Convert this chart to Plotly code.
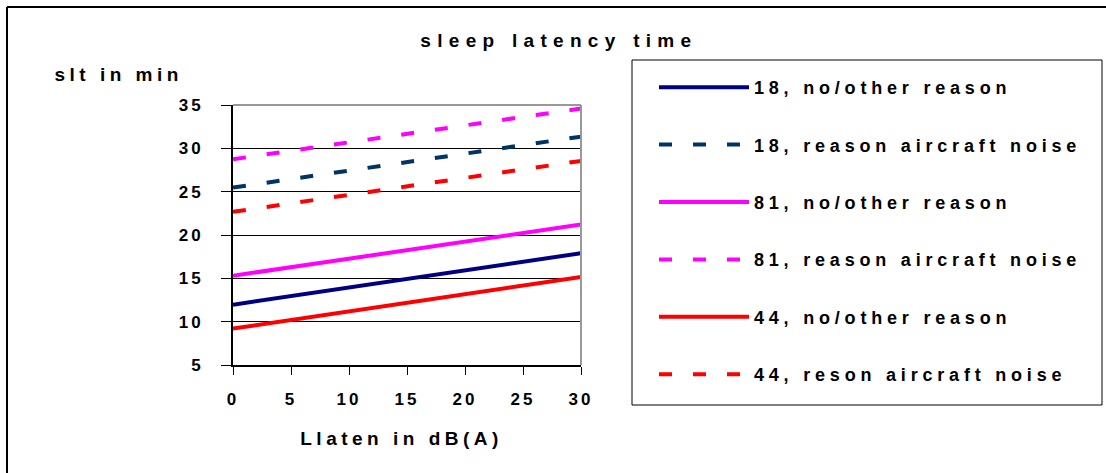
import plotly.graph_objects as go

# ---- data ----
x_vals = [0, 30]
series_names = [
    "18, no/other reason",
    "18, reason aircraft noise",
    "81, no/other reason",
    "81, reason aircraft noise",
    "44, no/other reason",
    "44, reson aircraft noise",
]
s18_other = [11.96, 17.9]
s18_noise = [25.47, 31.35]
s81_other = [15.3, 21.2]
s81_noise = [28.74, 34.6]
s44_other = [9.2, 15.15]
s44_noise = [22.67, 28.55]
series_values = [s18_other, s18_noise, s81_other, s81_noise, s44_other, s44_noise]
x_ticks = [0, 5, 10, 15, 20, 25, 30]
y_ticks = [5, 10, 15, 20, 25, 30, 35]

colors = ["#000080", "#003366", "#FF00FF", "#FF00FF", "#FF0000", "#FF0000"]
dashes = ["solid", "13px,21px", "solid", "13px,21px", "solid", "13px,21px"]

W, H = 1106, 473
L, R, T, B = 233, 525, 105, 108
PW, PH = W - L - R, H - T - B

def px(xp):
    return (xp - L) / PW

def py(yp):
    return 1 - (yp - T) / PH

FONT = "Liberation Sans, Arial, sans-serif"

fig = go.Figure()
for i, (name, vals) in enumerate(zip(series_names, series_values)):
    fig.add_trace(go.Scatter(
        x=x_vals, y=vals, mode="lines", name=name,
        legendgroup=f"g{i}",
        line=dict(color=colors[i], width=4, dash=dashes[i]),
        hoverinfo="skip",
    ))

fig.update_layout(
    width=W, height=H,
    margin=dict(l=L, r=R, t=T, b=B, pad=0),
    paper_bgcolor="white", plot_bgcolor="white",
    font=dict(family=FONT, color="black", size=17, weight="bold"),
    showlegend=True,
    legend=dict(
        xref="container", yref="container",
        x=654 / W, y=1 - 69 / H, xanchor="left", yanchor="top",
        bgcolor="rgba(0,0,0,0)", borderwidth=0,
        font=dict(family=FONT, size=18, color="black", weight="bold"),
        itemwidth=90, tracegroupgap=31,
        traceorder="grouped",
        maxheight=460,
    ),
    xaxis=dict(
        range=[0, 30], tickvals=x_ticks, ticktext=[str(v) for v in x_ticks],
        showgrid=False, zeroline=False,
        showline=True, linecolor="black", linewidth=2,
        ticks="outside", ticklen=8, tickcolor="black", tickwidth=1,
        tickfont=dict(family=FONT, size=17, color="black", weight="bold"),
        ticklabelstandoff=10,
        fixedrange=True,
    ),
    yaxis=dict(
        range=[5, 35], tickvals=y_ticks, ticktext=[str(v) for v in y_ticks],
        showgrid=True, gridcolor="black", gridwidth=1, zeroline=False,
        showline=True, linecolor="black", linewidth=2,
        ticks="outside", ticklen=10, tickcolor="black", tickwidth=1,
        tickfont=dict(family=FONT, size=17, color="black", weight="bold"),
        ticklabelstandoff=14,
        fixedrange=True,
    ),
)

# plot area top/right border (gray)
fig.add_shape(type="line", xref="paper", yref="paper", x0=0, x1=1, y0=1, y1=1,
              line=dict(color="#999999", width=2))
fig.add_shape(type="line", xref="paper", yref="paper", x0=1, x1=1, y0=0, y1=1,
              line=dict(color="#999999", width=2))
# legend box
fig.add_shape(type="rect", xref="paper", yref="paper",
              x0=px(632), x1=px(1102), y0=py(405), y1=py(60),
              line=dict(color="black", width=1), layer="below")
# outer frame (left and top edges)
fig.add_shape(type="line", xref="paper", yref="paper", x0=px(7), x1=px(7), y0=py(7), y1=py(480),
              line=dict(color="black", width=2))
fig.add_shape(type="line", xref="paper", yref="paper", x0=px(7), x1=px(1110), y0=py(7), y1=py(7),
              line=dict(color="black", width=2))

# titles
fig.add_annotation(text="sleep latency time", xref="paper", yref="paper",
                   x=px(559), y=py(40), showarrow=False, xanchor="center", yanchor="middle",
                   font=dict(family=FONT, size=19, color="black", weight="bold"))
fig.add_annotation(text="slt in min", xref="paper", yref="paper",
                   x=px(118), y=py(74), showarrow=False, xanchor="center", yanchor="middle",
                   font=dict(family=FONT, size=19, color="black", weight="bold"))
fig.add_annotation(text="Llaten in dB(A)", xref="paper", yref="paper",
                   x=px(401), y=py(438), showarrow=False, xanchor="center", yanchor="middle",
                   font=dict(family=FONT, size=19, color="black", weight="bold"))

post = """
var s=document.createElement('style');
s.textContent='.legendtext{letter-spacing:4.8px;} .xtick text,.ytick text{letter-spacing:3px;} .annotation-text{letter-spacing:4.5px;} .legend .scrollbox{clip-path:none !important;} .legend .scrollbar{display:none !important;} .annotation[data-index="0"] .annotation-text{letter-spacing:6.3px;}';
document.head.appendChild(s);
"""

fig.write_html("out.html", post_script=post, config={"displayModeBar": False})
